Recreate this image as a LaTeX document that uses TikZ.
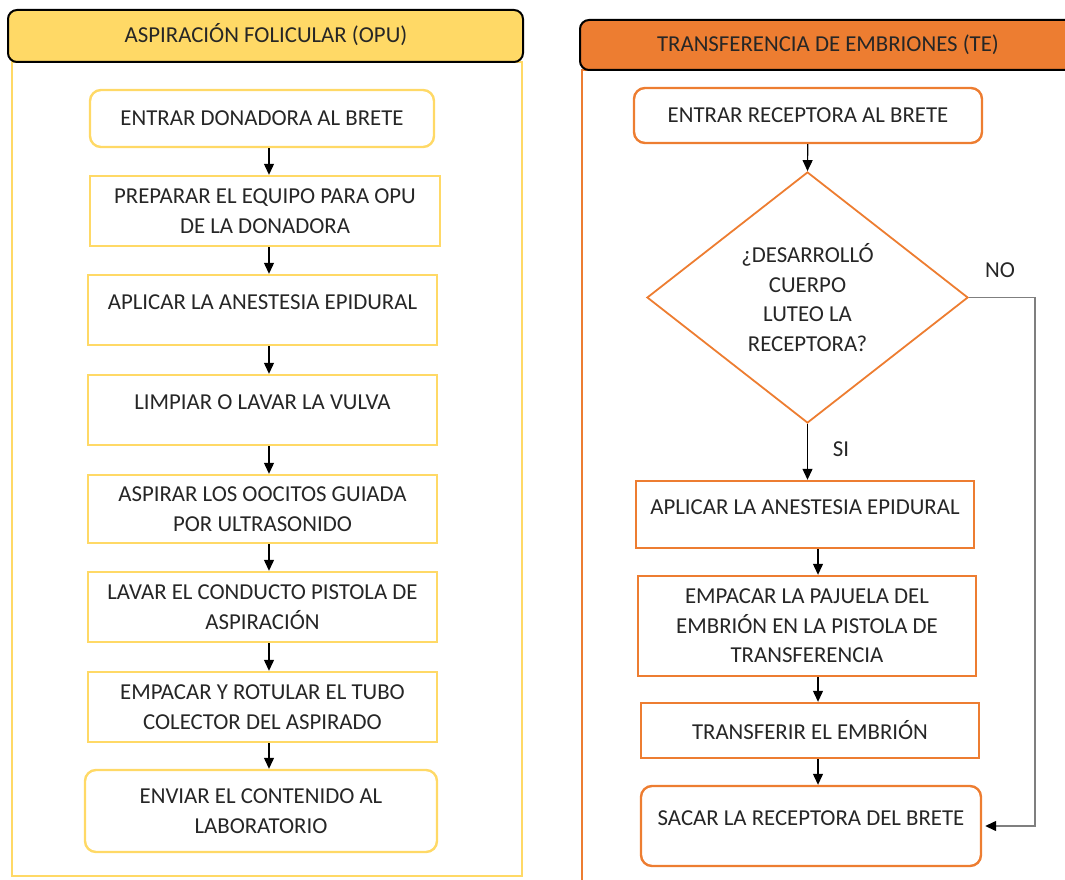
\documentclass[tikz,border=0pt]{standalone}
\usepackage{fontspec}
\setmainfont{Carlito}
\usepackage{tikz}
\usetikzlibrary{arrows.meta}
\usetikzlibrary{shapes.geometric}
\usetikzlibrary{positioning}
\definecolor{opuyellow}{HTML}{FFD966}
\definecolor{teorange}{HTML}{ED7D31}
\definecolor{gris}{HTML}{7F7F7F}
\newcommand{\letrapaso}{\fontsize{22.8}{29.6}\selectfont}
\tikzset{
  paso/.style={draw, line width=2.4pt, align=center, inner sep=2pt, font=\letrapaso, text=black!85},
  opupaso/.style={paso, draw=opuyellow},
  tepaso/.style={paso, draw=teorange},
  redondo/.style={rounded corners=11pt},
  arriba/.style={text depth=15pt},
  flecha/.style={line width=1.2pt, -{Triangle[length=11pt,width=10pt]}},
  etiqueta/.style={font=\letrapaso, text=black!85},
}

\begin{document}
\begin{tikzpicture}[x=1pt, y=-1pt]
\useasboundingbox (0,0) rectangle (1065,880);
\clip (0,0) rectangle (1065,880);
% marcos de las dos columnas
\draw[opuyellow, line width=2pt] (12,62) rectangle (522,876);
\draw[teorange, line width=2pt] (582,70) rectangle (1090,900);
\draw[black, line width=2pt, fill=opuyellow, rounded corners=9pt] (8,10) rectangle (523,62);
\draw[black, line width=2pt, fill=teorange, rounded corners=9pt] (580,20) rectangle (1095,70);
\node[etiqueta] (cabOPU) at (266,35) {ASPIRACIÓN FOLICULAR (OPU)};
\node[etiqueta] (cabTE) at (828,45) {TRANSFERENCIA DE EMBRIONES (TE)};

% columna OPU
\node[opupaso, redondo, minimum width=344, minimum height=57] (entrar) at (262,118.5) {ENTRAR DONADORA AL BRETE};
\node[opupaso, minimum width=350, minimum height=70] (preparar) at (265,211) {PREPARAR EL EQUIPO PARA OPU\\DE LA DONADORA};
\node[opupaso, arriba, minimum width=349, minimum height=70] (anestesia) at (262.5,310) {APLICAR LA ANESTESIA EPIDURAL};
\node[opupaso, arriba, minimum width=349, minimum height=70] (limpiar) at (262.5,410) {LIMPIAR O LAVAR LA VULVA};
\node[opupaso, minimum width=349, minimum height=68] (aspirar) at (262.5,509) {ASPIRAR LOS OOCITOS GUIADA\\POR ULTRASONIDO};
\node[opupaso, minimum width=349, minimum height=70] (lavar) at (262.5,607) {LAVAR EL CONDUCTO PISTOLA DE\\ASPIRACIÓN};
\node[opupaso, minimum width=349, minimum height=70] (empacar) at (262.5,707) {EMPACAR Y ROTULAR EL TUBO\\COLECTOR DEL ASPIRADO};
\node[opupaso, redondo, minimum width=352, minimum height=82] (enviar) at (261,811) {ENVIAR EL CONTENIDO AL\\LABORATORIO};
\coordinate (ejeOPU) at (269,0);
\foreach \a/\b in {entrar/preparar, preparar/anestesia, anestesia/limpiar, limpiar/aspirar, aspirar/lavar, lavar/empacar, empacar/enviar}
  \draw[flecha] (\a.south -| ejeOPU) -- (\b.north -| ejeOPU);

% columna TE
\node[tepaso, redondo, minimum width=348, minimum height=55] (entrarR) at (808,115.5) {ENTRAR RECEPTORA AL BRETE};
\node[tepaso, diamond, line width=1.8pt, inner sep=0pt, aspect=1.28, minimum width=321, minimum height=251] (cuerpo) at (807.5,297.5) {¿DESARROLLÓ\\CUERPO\\LUTEO LA\\RECEPTORA?};
\node[tepaso, arriba, minimum width=338, minimum height=67] (anestR) at (805,514.5) {APLICAR LA ANESTESIA EPIDURAL};
\node[tepaso, minimum width=338, minimum height=100] (pajuela) at (807,626) {EMPACAR LA PAJUELA DEL\\EMBRIÓN EN LA PISTOLA DE\\TRANSFERENCIA};
\node[tepaso, minimum width=338, minimum height=55] (transferir) at (810,730.5) {TRANSFERIR EL EMBRIÓN};
\node[tepaso, redondo, arriba, minimum width=340, minimum height=80] (sacar) at (811,826) {SACAR LA RECEPTORA DEL BRETE};
\node[etiqueta] (lblNo) at (1000,270) {NO};
\node[etiqueta] (lblSi) at (841,449) {SI};
\coordinate (ejeTE) at (818,0);
\coordinate (codo) at (1035,0);
\draw[flecha] (entrarR) -- (cuerpo.north);
\draw[flecha] (cuerpo.south) -- (anestR.north -| cuerpo.south);
\foreach \a/\b in {anestR/pajuela, pajuela/transferir, transferir/sacar}
  \draw[flecha] (\a.south -| ejeTE) -- (\b.north -| ejeTE);
\draw[gris, line width=1.4pt, -{Triangle[length=11pt,width=10pt,black]}] (cuerpo.east) -- (cuerpo.east -| codo) -- (sacar.east -| codo) -- ([xshift=3pt]sacar.east);
\end{tikzpicture}
\end{document}
